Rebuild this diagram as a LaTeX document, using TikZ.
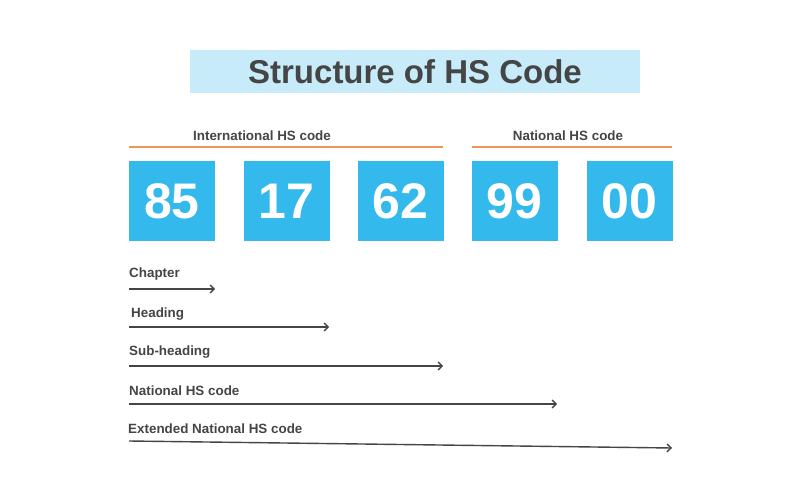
\documentclass[tikz,border=0pt]{standalone}
\usepackage{fontspec}
\setmainfont{Liberation Sans}
\usetikzlibrary{arrows.meta}
\definecolor{titlebg}{HTML}{C8EBF9}
\definecolor{codeblue}{HTML}{33B9EC}
\definecolor{darkgray}{HTML}{454545}
\definecolor{lineorange}{HTML}{F0955A}
\tikzset{
  numbox/.style={fill=codeblue,text=white,minimum width=86pt,minimum height=80pt,inner sep=0pt,font=\fontsize{50}{50}\selectfont\bfseries},
  grouplabel/.style={text=darkgray,inner sep=0pt,font=\fontsize{13.4}{14}\selectfont\bfseries},
  levellabel/.style={text=darkgray,anchor=west,inner sep=0pt,font=\fontsize{13.4}{14}\selectfont\bfseries},
  levelarrow/.style={draw=darkgray,line width=1.4pt,-{Straight Barb[length=4pt,width=8pt]}},
  groupline/.style={draw=lineorange,line width=2pt}
}
\begin{document}
\begin{tikzpicture}[x=1pt,y=-1pt]
\useasboundingbox[fill=white] (0,0) rectangle (800,500);
% title
\fill[titlebg] (190,50) rectangle (640,93);
\node[text=darkgray,font=\fontsize{33}{33}\selectfont\bfseries] (title) at (415,72) {Structure of HS Code};
% groups
\node[grouplabel] (intl) at (262,136) {International HS code};
\node[grouplabel] (natl) at (568,136) {National HS code};
\coordinate (il) at (129,147);
\coordinate (ir) at (443,147);
\coordinate (nl) at (472,147);
\coordinate (nr) at (672,147);
\draw[groupline] (il) -- (ir);
\draw[groupline] (nl) -- (nr);
% code digits
\node[numbox] (b85) at (172,201) {85};
\node[numbox] (b17) at (286.5,201) {17};
\node[numbox] (b62) at (400.5,201) {62};
\node[numbox] (b99) at (514.5,201) {99};
\node[numbox] (b00) at (629.5,201) {00};
% levels
\node[levellabel] (chap) at (129,274) {Chapter};
\node[levellabel] (head) at (131,314) {Heading};
\node[levellabel] (sub) at (129,352) {Sub-heading};
\node[levellabel] (nat) at (129,391) {National HS code};
\node[levellabel] (ext) at (128,429) {Extended National HS code};
\coordinate (a1s) at (129,289);
\coordinate (a1e) at (215,289);
\coordinate (a2s) at (129,327);
\coordinate (a2e) at (329,327);
\coordinate (a3s) at (129,366);
\coordinate (a3e) at (443,366);
\coordinate (a4s) at (129,404);
\coordinate (a4e) at (557,404);
\coordinate (a5s) at (129,441);
\coordinate (a5e) at (672,448);
\draw[levelarrow] (a1s) -- (a1e);
\draw[levelarrow] (a2s) -- (a2e);
\draw[levelarrow] (a3s) -- (a3e);
\draw[levelarrow] (a4s) -- (a4e);
\draw[levelarrow] (a5s) -- (a5e);
\end{tikzpicture}
\end{document}
